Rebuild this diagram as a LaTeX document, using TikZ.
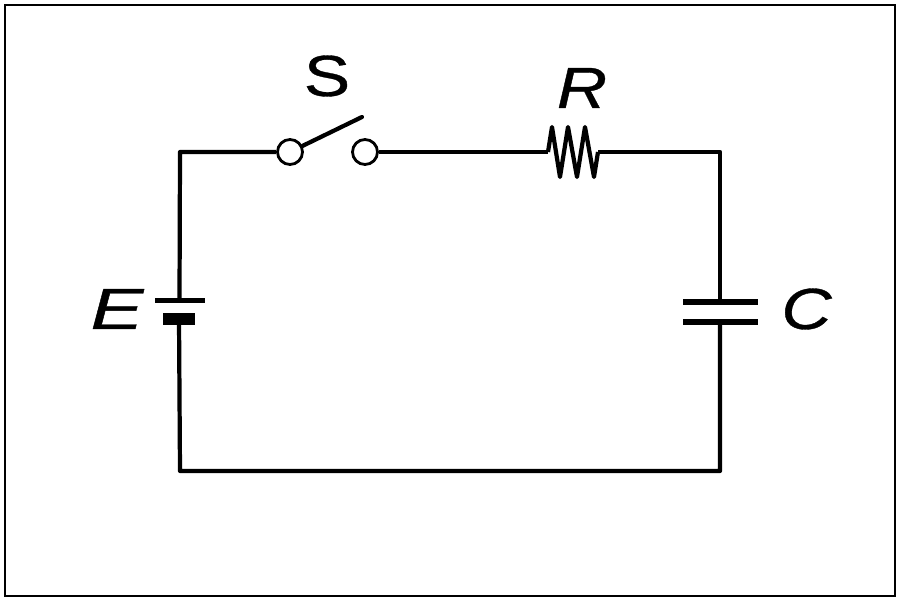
\documentclass[tikz,border=0pt]{standalone}
\usepackage{fontspec}
\setmainfont{Liberation Sans}
\newfontfamily\letterfont[FakeBold=0.6, ItalicFeatures={FakeBold=0.6}]{Liberation Sans}
\tikzset{
	wire/.style={line width=1.2pt, line join=round},
	plate/.style={rectangle, fill=black, inner sep=0pt, outer sep=0pt},
	terminal/.style={circle, draw, fill=white, line width=0.8pt, inner sep=0pt, minimum size=0.25cm},
	letter/.style={font=\fontsize{16.5}{20}\selectfont\letterfont, xscale=1.2, inner sep=0pt}
}
\begin{document}
\begin{tikzpicture}
	\useasboundingbox (0,0) rectangle (9,6);
	\draw[line width=0.6pt] (0.05,0.04) rectangle (8.95,5.95);
	% corners
	\coordinate (tl) at (1.8,4.48);
	\coordinate (tr) at (7.2,4.48);
	\coordinate (bl) at (1.8,1.29);
	\coordinate (br) at (7.2,1.29);
	\coordinate (r1) at (5.48,4.48);
	\coordinate (r2) at (5.98,4.48);
	% parts
	\node[terminal] (s1) at (2.9,4.48) {};
	\node[terminal] (s2) at (3.65,4.48) {};
	\coordinate (s3) at (3.62,4.83);
	\node[plate, minimum width=0.5cm, minimum height=0.05cm] (e1) at (1.795,2.99) {};
	\node[plate, minimum width=0.32cm, minimum height=0.125cm] (e2) at (1.79,2.81) {};
	\node[plate, minimum width=0.75cm, minimum height=0.06cm] (c1) at (7.2,2.98) {};
	\node[plate, minimum width=0.75cm, minimum height=0.06cm] (c2) at (7.2,2.78) {};
	% wires
	\draw[wire] (e1.center) -- (tl) -- (s1);
	\draw[wire] (s2) -- (r1);
	\draw[wire] (r1) -- (5.52,4.73) -- (5.6,4.23) -- (5.68,4.73) -- (5.77,4.23) -- (5.85,4.73) -- (5.94,4.23) -- (r2);
	\draw[wire] (r2) -- (tr) -- (c1.center);
	\draw[wire] (c2.center) -- (br) -- (bl) -- (e2.center);
	\draw[wire, line cap=round] (s1) -- (s3);
	\node[letter] (ls) at (3.27,5.24) {S};
	\node[letter] (lr) at (5.82,5.12) {\itshape R};
	\node[letter, xscale=1.14] (le) at (1.17,2.91) {\itshape E};
	\node[letter] (lc) at (8.065,2.91) {\itshape C};
\end{tikzpicture}
\end{document}
